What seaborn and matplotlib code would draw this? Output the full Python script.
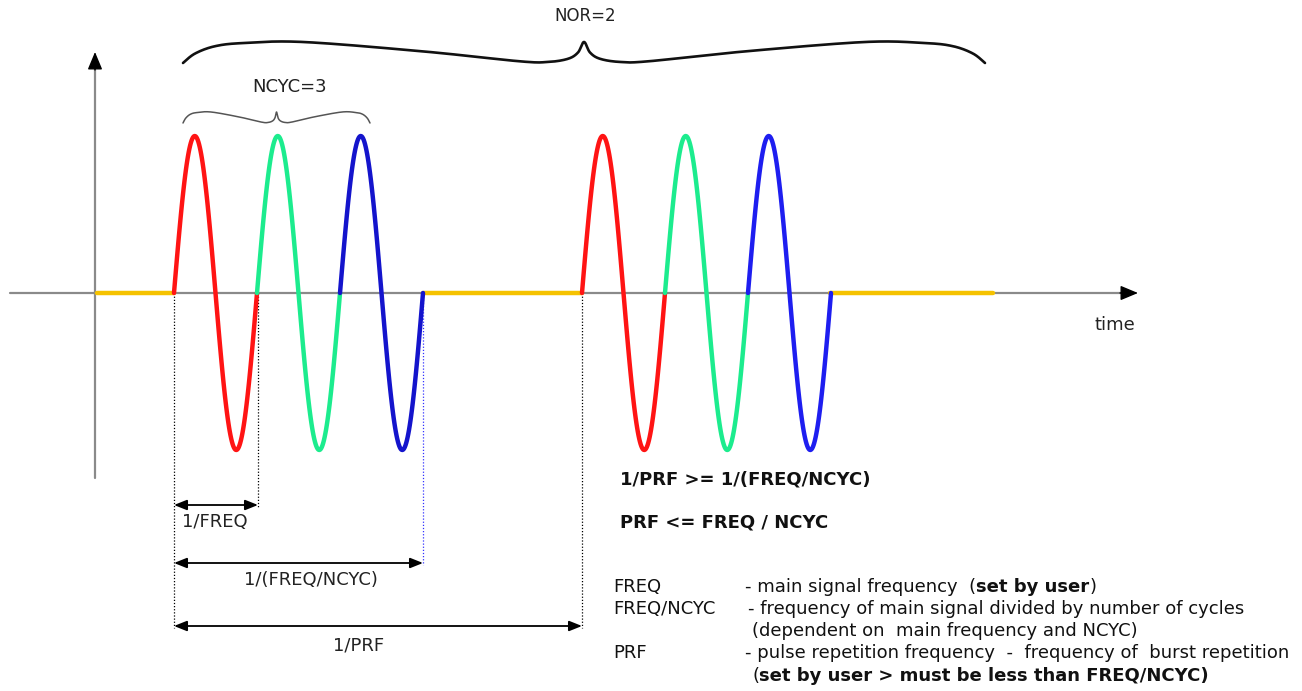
import numpy as np
import pandas as pd
import matplotlib
matplotlib.use('Agg')
import matplotlib.pyplot as plt
import seaborn as sns

# Burst parameters (picture units, y grows downwards)
baseline_y = 293
amplitude = 157
cycle_period = 83
n_cycles = 3
burst_starts = [174, 582]
cycle_colors = [['#ff1414', '#1cec8e', '#1414cc'],
                ['#ff1414', '#1cec8e', '#1e1ef0']]
idle_starts = [97, 423, 830]
idle_ends = [174, 582, 993]
idle_color = '#f5c200'

# Dimension lines
dim_labels = ['1/FREQ', '1/(FREQ/NCYC)', '1/PRF']
dim_x0 = [174, 174, 174]
dim_x1 = [258, 423, 582]
dim_y = [505, 563, 626]
dim_label_y = [522, 580, 646]
dim_label_x = [215, 311, 359]

# Dotted guides
guide_x = [174, 258, 423, 582]
guide_bottom = [628, 507, 565, 628]
guide_colors = ['black', 'black', '#3333ff', 'black']

sns.set_theme(style='white')
plt.rcParams['font.family'] = ['DejaVu Sans']

fig = plt.figure(figsize=(13.02, 6.91), dpi=100)
ax = fig.add_axes([0, 0, 1, 1])
ax.set_xlim(0, 1302)
ax.set_ylim(691, 0)
ax.axis('off')

# Axes of the diagram
ax.plot([10, 1125], [baseline_y, baseline_y], color='#8a8a8a', lw=1.6, zorder=1)
ax.annotate('', xy=(1138, baseline_y), xytext=(1120, baseline_y),
            arrowprops=dict(arrowstyle='-|>,head_length=0.6,head_width=0.25',
                            mutation_scale=18, color='black', lw=1, shrinkA=0, shrinkB=0))
ax.plot([95, 95], [478, 64], color='#8a8a8a', lw=1.6, zorder=1)
ax.annotate('', xy=(95, 52), xytext=(95, 70),
            arrowprops=dict(arrowstyle='-|>,head_length=0.6,head_width=0.25',
                            mutation_scale=18, color='black', lw=1, shrinkA=0, shrinkB=0))
ax.text(1115, 325, 'time', ha='center', va='center', fontsize=13, color='#222222')

# Dotted guides
for gx, gb, gc in zip(guide_x, guide_bottom, guide_colors):
    ax.plot([gx, gx], [baseline_y, gb], color=gc, lw=0.9, ls=(0, (1, 1.5)), zorder=2)

# Idle segments
for x0, x1 in zip(idle_starts, idle_ends):
    sns.lineplot(x=[x0, x1], y=[baseline_y, baseline_y], color=idle_color,
                 lw=3.2, ax=ax, zorder=3)

# Bursts of sine cycles
for b, start in enumerate(burst_starts):
    for c in range(n_cycles):
        xs = np.linspace(start + c * cycle_period, start + (c + 1) * cycle_period, 120)
        ys = baseline_y - amplitude * np.sin(2 * np.pi * (xs - start) / cycle_period)
        df = pd.DataFrame({'x': xs, 'y': ys})
        sns.lineplot(data=df, x='x', y='y', color=cycle_colors[b][c], lw=3.2,
                     sort=False, ax=ax, zorder=4)

# Dimension arrows
for lab, x0, x1, y, lx, ly in zip(dim_labels, dim_x0, dim_x1, dim_y, dim_label_x, dim_label_y):
    ax.annotate('', xy=(x1, y), xytext=(x0, y),
                arrowprops=dict(arrowstyle='<|-|>,head_length=0.55,head_width=0.22',
                                mutation_scale=14, color='black', lw=1.3,
                                shrinkA=0, shrinkB=0))
    ax.text(lx, ly, lab, ha='center', va='center', fontsize=13, color='#222222')


def catmull(vals, steps=40):
    out = []
    n = len(vals)
    for i in range(n - 1):
        p0 = vals[max(i - 1, 0)]
        p1 = vals[i]
        p2 = vals[i + 1]
        p3 = vals[min(i + 2, n - 1)]
        s = np.linspace(0, 1, steps, endpoint=False)
        out.append(0.5 * ((2 * p1) + (-p0 + p2) * s + (2 * p0 - 5 * p1 + 4 * p2 - p3) * s ** 2
                          + (-p0 + 3 * p1 - 3 * p2 + p3) * s ** 3))
    out.append(np.array([vals[-1]]))
    return np.concatenate(out)


def brace(x0, x1, y_end, y_tip, color, lw):
    hw = (x1 - x0) / 2
    h = y_end - y_tip
    # shape of the left half: fractions of half width / height
    fx = [0, 0.03, 0.08, 0.15, 0.3, 0.6, 0.84, 0.91, 0.96, 0.985, 1.0]
    fy = [0, 0.45, 0.8, 0.95, 1.0, 0.55, 0.08, 0.05, 0.2, 0.5, 1.0]
    left = [(x0 + a * hw, y_end - b * h) for a, b in zip(fx, fy)]
    right = [(x1 - a * hw, y_end - b * h) for a, b in zip(fx, fy)][::-1]
    pts = left + right[1:]
    xs = np.array([p[0] for p in pts])
    ys = np.array([p[1] for p in pts])
    ax.plot(catmull(xs), catmull(ys), color=color, lw=lw, solid_capstyle='round', zorder=5)


brace(183, 985, 63, 42, '#111111', 1.9)
brace(183, 370, 123, 112, '#555555', 1.1)
ax.text(585, 16, 'NOR=2', ha='center', va='center', fontsize=12, color='#222222')
ax.text(290, 87, 'NCYC=3', ha='center', va='center', fontsize=13, color='#222222')

# Relations
ax.text(620, 479, '1/PRF >= 1/(FREQ/NCYC)', ha='left', va='center', fontsize=13,
        weight='bold', color='#111111')
ax.text(620, 523, 'PRF <= FREQ / NCYC', ha='left', va='center', fontsize=13,
        weight='bold', color='#111111')

fig.canvas.draw()
renderer = fig.canvas.get_renderer()


def rich(x, y, parts):
    for s, w in parts:
        t = ax.text(x, y, s, ha='left', va='center', fontsize=13, weight=w, color='#111111')
        x += t.get_window_extent(renderer).width


legend_terms = ['FREQ', 'FREQ/NCYC', '', 'PRF', '']
legend_y = [587, 609, 631, 653, 676]
legend_desc_x = [745, 748, 752, 745, 752]
legend_desc = [
    [('- main signal frequency  (', 'normal'), ('set by user', 'bold'), (')', 'normal')],
    [('- frequency of main signal divided by number of cycles', 'normal')],
    [('(dependent on  main frequency and NCYC)', 'normal')],
    [('- pulse repetition frequency  -  frequency of  burst repetition', 'normal')],
    [('(', 'normal'), ('set by user > must be less than FREQ/NCYC)', 'bold')],
]
for term, y, dx, desc in zip(legend_terms, legend_y, legend_desc_x, legend_desc):
    if term:
        ax.text(613, y, term, ha='left', va='center', fontsize=13, color='#111111')
    rich(dx, y, desc)

fig.savefig('out.png', dpi=100)
